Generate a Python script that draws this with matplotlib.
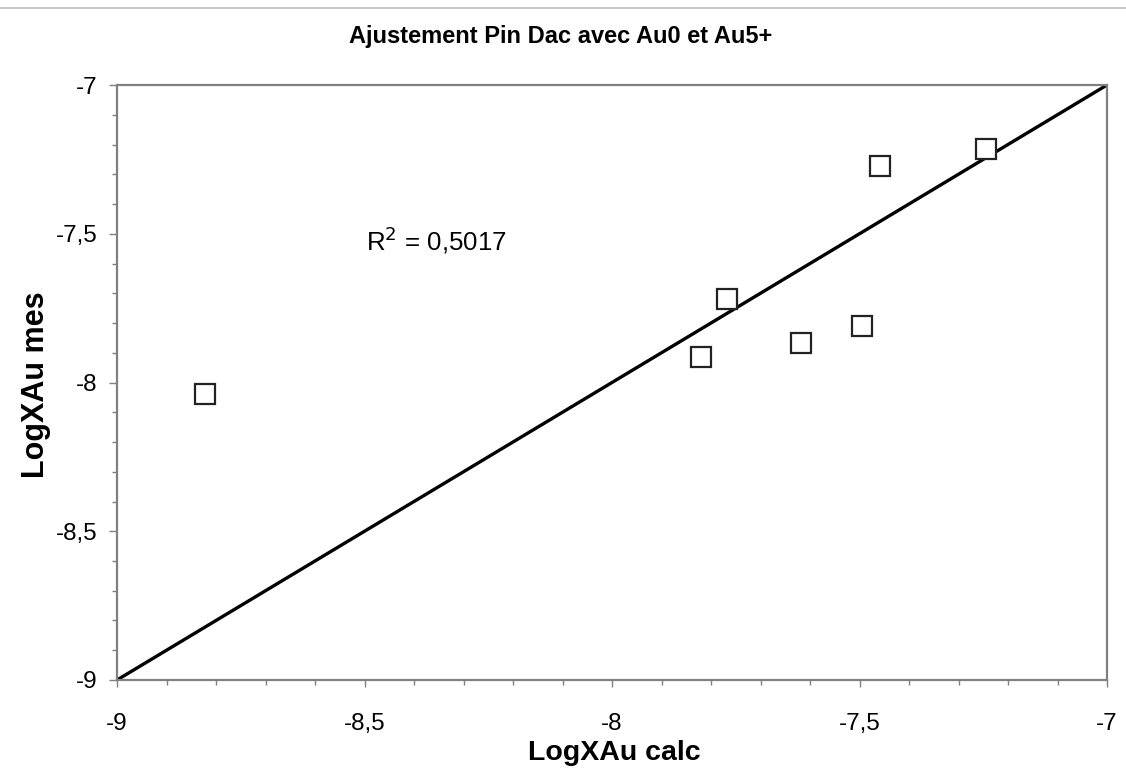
import matplotlib
matplotlib.use("Agg")
import matplotlib.pyplot as plt
from matplotlib.lines import Line2D
from matplotlib.ticker import MultipleLocator, FuncFormatter

plt.rcParams["font.family"] = ["Liberation Sans", "DejaVu Sans"]

# données
log_calc = [-8.822, -7.820, -7.768, -7.618, -7.495, -7.459, -7.244]
log_mes = [-8.039, -7.914, -7.718, -7.867, -7.809, -7.273, -7.216]
line_x = [-9, -7]
line_y = [-9, -7]
r2_text = "R$^2$ = 0,5017"


def fr_fmt(v, pos):
    s = f"{v:g}"
    return s.replace(".", ",")


W, H = 1126, 769
fig = plt.figure(figsize=(W / 100, H / 100), dpi=100)
fig.patch.set_facecolor("white")
ax = fig.add_axes([117 / W, 1 - 680 / H, (1107 - 117) / W, (680 - 85) / H])

ax.plot(line_x, line_y, color="black", linewidth=2.4, solid_capstyle="butt", zorder=2)
ax.plot(log_calc, log_mes, linestyle="none", marker="s", markersize=14.5,
        markerfacecolor="white", markeredgecolor="#222222", markeredgewidth=1.6, zorder=3)

ax.set_xlim(-9, -7)
ax.set_ylim(-9, -7)
ax.xaxis.set_major_locator(MultipleLocator(0.5))
ax.xaxis.set_minor_locator(MultipleLocator(0.1))
ax.yaxis.set_major_locator(MultipleLocator(0.5))
ax.yaxis.set_minor_locator(MultipleLocator(0.1))
ax.xaxis.set_major_formatter(FuncFormatter(fr_fmt))
ax.yaxis.set_major_formatter(FuncFormatter(fr_fmt))

for side in ["top", "right", "bottom", "left"]:
    ax.spines[side].set_color("#808080")
    ax.spines[side].set_linewidth(1.6)

ax.tick_params(which="both", direction="out", color="#808080", width=1.0)
ax.tick_params(axis="x", which="major", length=5, labelsize=17.5, pad=19)
ax.tick_params(axis="y", which="major", length=5.8, labelsize=17.5, pad=8.5)
ax.tick_params(which="minor", length=3.6)

fig.text(614 / W, 1 - 753 / H, "LogXAu calc", fontsize=20.5, fontweight="bold",
         ha="center", va="center")
fig.text(36 / W, 1 - 385 / H, "LogXAu mes", fontsize=22, fontweight="bold",
         ha="center", va="center", rotation=90)
fig.text(561 / W, 1 - 37 / H, "Ajustement Pin Dac avec Au0 et Au5+", fontsize=17,
         fontweight="bold", ha="center", va="center")

ax.text(-8.497, -7.523, r2_text, fontsize=18.6, ha="left", va="center")

fig.add_artist(Line2D([0, 1], [1 - 8 / H, 1 - 8 / H], color="#c8c8c8", linewidth=1.5))

fig.savefig("out.png", dpi=100, facecolor="white")
